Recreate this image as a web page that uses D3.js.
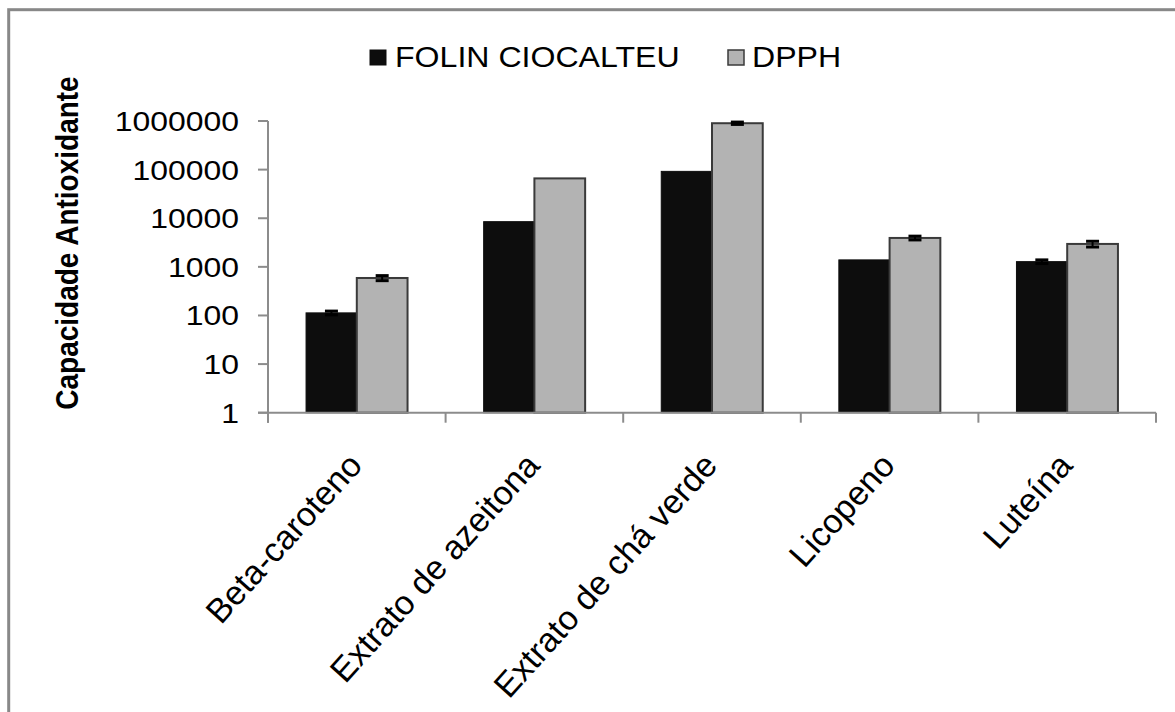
<!DOCTYPE html>
<html>
<head>
<meta charset="utf-8">
<script src="https://cdn.jsdelivr.net/npm/d3@7/dist/d3.min.js"></script>
<style>
  html, body { margin: 0; padding: 0; background: #ffffff; }
  svg { display: block; }
  text { font-family: "Liberation Sans", Arial, sans-serif; fill: #000; }
</style>
</head>
<body>
<svg id="chart" width="1175" height="712"></svg>
<script>
// Antioxidant capacity by sample, two assays, log scale
const categories = ["Beta-caroteno", "Extrato de azeitona", "Extrato de chá verde", "Licopeno", "Luteína"];
const seriesNames = ["FOLIN CIOCALTEU", "DPPH"];
const folinValues = [113, 8500, 92000, 1390, 1280];
const dpphValues = [590, 66000, 900000, 3930, 2960];
const folinErrors = [10, 0, 0, 0, 110];
const dpphErrors = [70, 0, 50000, 350, 400];
const yTicks = [1, 10, 100, 1000, 10000, 100000, 1000000];
const yTitle = "Capacidade Antioxidante";

const seriesColors = ["#0d0d0d", "#b3b3b3"];
const stretchX = 1.14; // horizontal text is set slightly wide

const svg = d3.select("#chart");
const W = 1175, H = 712;
const plot = { left: 268, right: 1156, top: 121, bottom: 412.7 };

svg.append("rect").attr("width", W).attr("height", H).attr("fill", "#fff");

// outer frame
svg.append("rect")
  .attr("x", 8.7).attr("y", 9.7)
  .attr("width", 1300).attr("height", 800)
  .attr("fill", "none").attr("stroke", "#888").attr("stroke-width", 3);

const x0 = d3.scaleBand().domain(categories).range([plot.left, plot.right]).paddingInner(0).paddingOuter(0);
const x1 = d3.scaleBand().domain(seriesNames).range([0, x0.bandwidth()]).paddingInner(0).paddingOuter(0.75);
const y = d3.scaleLog().domain([1, 1e6]).range([plot.bottom, plot.top]);

const rows = categories.map((c, i) => ({
  cat: c,
  vals: [
    { s: seriesNames[0], v: folinValues[i], e: folinErrors[i], k: 0 },
    { s: seriesNames[1], v: dpphValues[i], e: dpphErrors[i], k: 1 }
  ]
}));

// bars
const groups = svg.append("g").selectAll("g").data(rows).join("g")
  .attr("transform", d => `translate(${x0(d.cat)},0)`);

groups.selectAll("rect").data(d => d.vals).join("rect")
  .attr("x", d => x1(d.s))
  .attr("y", d => y(d.v))
  .attr("width", x1.bandwidth())
  .attr("height", d => y(1) - y(d.v))
  .attr("fill", d => seriesColors[d.k])
  .attr("stroke", d => d.k === 1 ? "#3a3a3a" : "#0d0d0d")
  .attr("stroke-width", d => d.k === 1 ? 2 : 1);

// error bars
const capW = 13;
groups.selectAll("g.err").data(d => d.vals.filter(v => v.e > 0)).join("g")
  .attr("class", "err")
  .each(function (d) {
    const g = d3.select(this);
    const cx = x1(d.s) + x1.bandwidth() / 2;
    const yHi = y(d.v + d.e), yLo = y(d.v - d.e);
    g.append("line").attr("x1", cx).attr("x2", cx).attr("y1", yHi).attr("y2", yLo)
      .attr("stroke", "#000").attr("stroke-width", 2);
    [yHi, yLo].forEach(yy => g.append("line")
      .attr("x1", cx - capW / 2).attr("x2", cx + capW / 2)
      .attr("y1", yy).attr("y2", yy)
      .attr("stroke", "#000").attr("stroke-width", 3));
  });

// axes
const axisColor = "#8c8c8c";
const ax = svg.append("g").attr("stroke", axisColor).attr("stroke-width", 2);
ax.append("line").attr("x1", plot.left).attr("x2", plot.left)
  .attr("y1", y(1e6)).attr("y2", y(1) + 10);
ax.append("line").attr("x1", plot.left - 10).attr("x2", plot.right)
  .attr("y1", y(1)).attr("y2", y(1));
ax.selectAll("line.yt").data(yTicks).join("line").attr("class", "yt")
  .attr("x1", plot.left - 10).attr("x2", plot.left)
  .attr("y1", d => y(d)).attr("y2", d => y(d));
const xEdges = categories.map(c => x0(c)).concat([plot.right]);
ax.selectAll("line.xt").data(xEdges).join("line").attr("class", "xt")
  .attr("x1", d => d).attr("x2", d => d)
  .attr("y1", y(1)).attr("y2", y(1) + 10);

// y tick labels
svg.append("g").selectAll("text").data(yTicks).join("text")
  .attr("transform", d => `translate(${plot.left - 29},${y(d) + 10}) scale(${stretchX},1)`)
  .attr("text-anchor", "end")
  .attr("font-size", 28)
  .text(d => d3.format("d")(d));

// category labels, rotated
svg.append("g").selectAll("text").data(categories).join("text")
  .attr("transform", d => `translate(${x0(d) + x0.bandwidth() / 2 + 7},${plot.bottom + 54}) rotate(-48)`)
  .attr("text-anchor", "end")
  .attr("font-size", 34)
  .text(d => d);

// y axis title
svg.append("text")
  .attr("transform", `translate(78,243) scale(${stretchX},1) rotate(-90)`)
  .attr("text-anchor", "middle")
  .attr("font-size", 28)
  .attr("font-weight", "bold")
  .text(yTitle);

// legend
const legendItems = [
  { name: seriesNames[0], sx: 370, tx: 395 },
  { name: seriesNames[1], sx: 728, tx: 752 }
];
const lg = svg.append("g");
legendItems.forEach((it, i) => {
  lg.append("rect").attr("x", it.sx).attr("y", 50).attr("width", 16).attr("height", 15)
    .attr("fill", seriesColors[i])
    .attr("stroke", i === 1 ? "#3a3a3a" : "#0d0d0d")
    .attr("stroke-width", i === 1 ? 1.5 : 1);
  lg.append("text")
    .attr("transform", `translate(${it.tx},67) scale(1.07,1)`)
    .attr("font-size", 30)
    .text(it.name);
});
</script>
</body>
</html>
